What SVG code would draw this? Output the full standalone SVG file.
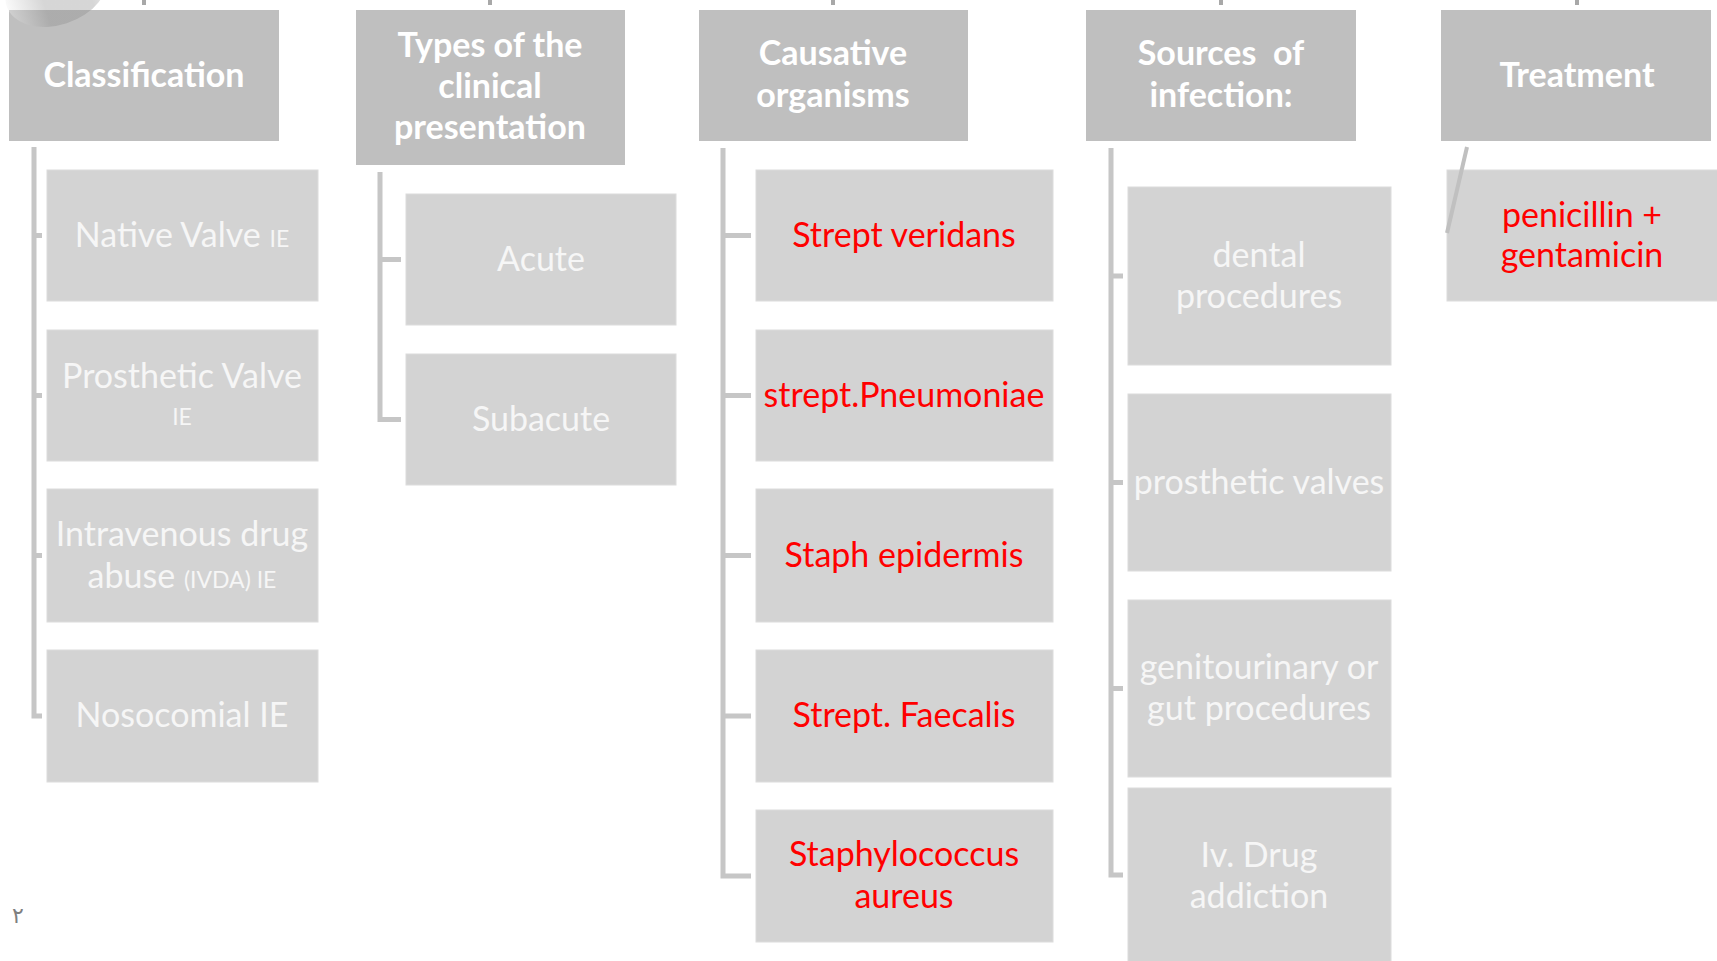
<svg xmlns="http://www.w3.org/2000/svg" width="1717" height="961" viewBox="0 0 1717 961">
<defs>
<linearGradient id="blob" x1="0" y1="0" x2="1" y2="0">
<stop offset="0" stop-color="#f0f0f0"/>
<stop offset="0.35" stop-color="#8a8a8a"/>
<stop offset="0.8" stop-color="#8a8a8a"/>
<stop offset="1" stop-color="#d0d0d0"/>
</linearGradient>
</defs>
<style>
.hdr{fill:#bfbfbf}
.box{fill:#d3d3d3;stroke:#dcdcdc;stroke-width:1}
.ht{font-family:Lato,"Liberation Sans",sans-serif;font-weight:bold;font-size:34px;fill:#ffffff;text-anchor:middle}
.ct{font-family:Lato,"Liberation Sans",sans-serif;font-size:34px;fill:#f6f6f6;text-anchor:middle}
.rt{font-family:Lato,"Liberation Sans",sans-serif;font-size:34px;fill:#ff0000;text-anchor:middle}
.sm{font-size:23px}
.con{fill:none;stroke:#c6c6c6;stroke-width:5}
.stub{fill:none;stroke:#a8a8a8;stroke-width:4}
</style>
<rect width="1717" height="961" fill="#ffffff"/>

<g id="connectors">
<path class="stub" d="M144 0V5M490 0V5M833 0V5M1221 0V5M1577 0V5"/>
<path class="con" d="M34 147V716H42M34 235.5H42M34 395.5H42M34 555.5H42"/>
<path class="con" d="M380 172V419.5H401M380 259.5H401"/>
<path class="con" d="M723 148V876H751M723 235.5H751M723 395.5H751M723 555.5H751M723 716H751"/>
<path class="con" d="M1111 148V875H1123M1111 276H1123M1111 482.5H1123M1111 688.5H1123"/>
</g>

<g id="classification">
<rect class="hdr" x="9" y="10" width="270" height="131"/>
<text class="ht" x="144" y="87">Classification</text>
</g>
<g id="topleft-shape">
<ellipse cx="56" cy="-10" rx="52" ry="35" transform="rotate(-18 56 -10)" fill="url(#blob)" opacity="0.35"/>
</g>
<g id="types">
<rect class="hdr" x="356" y="10" width="269" height="155"/>
<text class="ht" x="490" y="57">Types of the</text>
<text class="ht" x="490" y="98">clinical</text>
<text class="ht" x="490" y="139">presentation</text>
</g>
<g id="causative">
<rect class="hdr" x="699" y="10" width="269" height="131"/>
<text class="ht" x="833" y="65">Causative</text>
<text class="ht" x="833" y="107">organisms</text>
</g>
<g id="sources">
<rect class="hdr" x="1086" y="10" width="270" height="131"/>
<text class="ht" x="1221" y="65" xml:space="preserve">Sources  of</text>
<text class="ht" x="1221" y="107">infection:</text>
</g>
<g id="treatment">
<rect class="hdr" x="1441" y="10" width="270" height="131"/>
<text class="ht" x="1577" y="87">Treatment</text>
</g>

<g id="native-valve">
<rect class="box" x="47" y="170" width="271" height="131"/>
<text class="ct" x="182" y="247">Native Valve <tspan class="sm">IE</tspan></text>
</g>
<g id="prosthetic-valve">
<rect class="box" x="47" y="330" width="271" height="131"/>
<text class="ct" x="182" y="388">Prosthetic Valve</text>
<text class="ct sm" x="182" y="425">IE</text>
</g>
<g id="ivda">
<rect class="box" x="47" y="489" width="271" height="133"/>
<text class="ct" x="182" y="546">Intravenous drug</text>
<text class="ct" x="182" y="588">abuse <tspan class="sm">(IVDA) IE</tspan></text>
</g>
<g id="nosocomial">
<rect class="box" x="47" y="650" width="271" height="132"/>
<text class="ct" x="182" y="727">Nosocomial IE</text>
</g>

<g id="acute">
<rect class="box" x="406" y="194" width="270" height="131"/>
<text class="ct" x="541" y="271">Acute</text>
</g>
<g id="subacute">
<rect class="box" x="406" y="354" width="270" height="131"/>
<text class="ct" x="541" y="431">Subacute</text>
</g>

<g id="strept-veridans">
<rect class="box" x="756" y="170" width="297" height="131"/>
<text class="rt" x="904" y="247">Strept veridans</text>
</g>
<g id="strept-pneumoniae">
<rect class="box" x="756" y="330" width="297" height="131"/>
<text class="rt" x="904" y="407">strept.Pneumoniae</text>
</g>
<g id="staph-epidermis">
<rect class="box" x="756" y="489" width="297" height="133"/>
<text class="rt" x="904" y="567">Staph epidermis</text>
</g>
<g id="strept-faecalis">
<rect class="box" x="756" y="650" width="297" height="132"/>
<text class="rt" x="904" y="727">Strept. Faecalis</text>
</g>
<g id="staph-aureus">
<rect class="box" x="756" y="810" width="297" height="132"/>
<text class="rt" x="904" y="866">Staphylococcus</text>
<text class="rt" x="904" y="908">aureus</text>
</g>

<g id="dental">
<rect class="box" x="1128" y="187" width="263" height="178"/>
<text class="ct" x="1259" y="267">dental</text>
<text class="ct" x="1259" y="308">procedures</text>
</g>
<g id="prosthetic-valves">
<rect class="box" x="1128" y="394" width="263" height="177"/>
<text class="ct" x="1259" y="494">prosthetic valves</text>
</g>
<g id="genitourinary">
<rect class="box" x="1128" y="600" width="263" height="177"/>
<text class="ct" x="1259" y="679">genitourinary or</text>
<text class="ct" x="1259" y="720">gut procedures</text>
</g>
<g id="iv-drug">
<rect class="box" x="1128" y="788" width="263" height="180"/>
<text class="ct" x="1259" y="867">Iv. Drug</text>
<text class="ct" x="1259" y="908">addiction</text>
</g>

<g id="penicillin">
<rect class="box" x="1447" y="170" width="275" height="131"/>
<path d="M1467 147L1447 233" fill="none" stroke="#c0c0c0" stroke-width="4"/>
<text class="rt" x="1582" y="227">penicillin +</text>
<text class="rt" x="1582" y="267">gentamicin</text>
</g>

<text x="12" y="923" font-family="'DejaVu Sans',sans-serif" font-size="22" fill="#7f7f7f">٢</text>
</svg>
